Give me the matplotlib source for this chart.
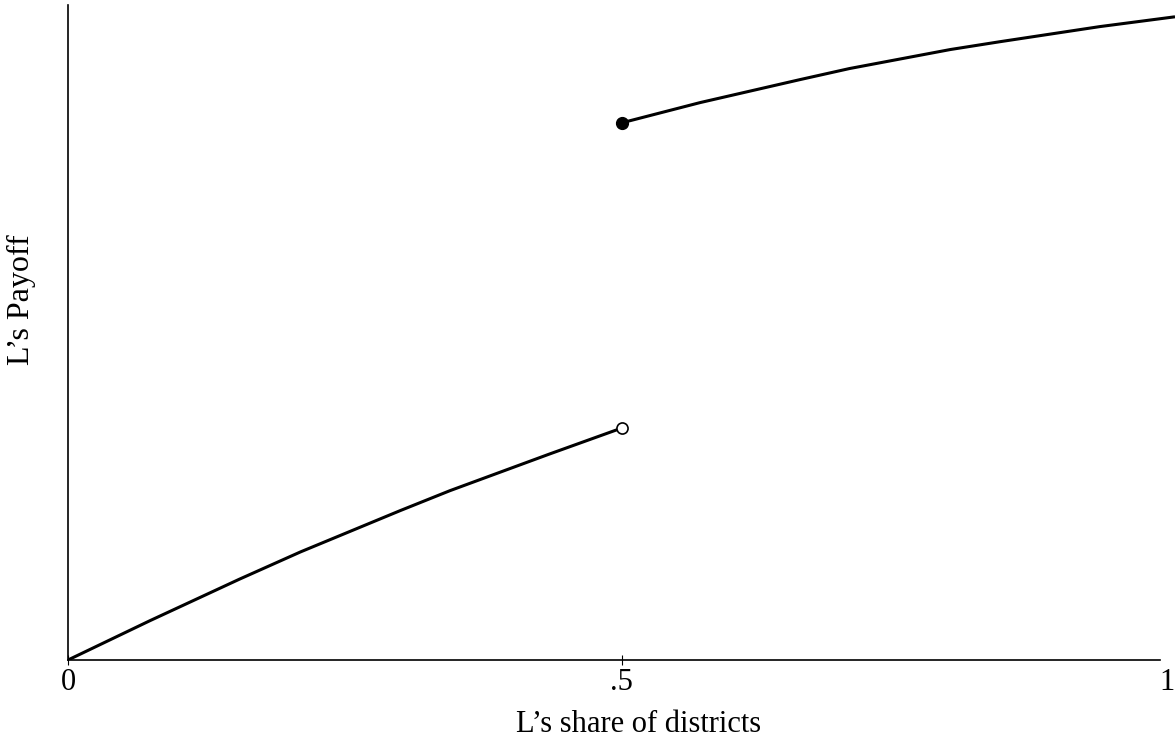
import matplotlib.pyplot as plt

# payoff below half the districts
low_x = [0, 0.074, 0.155, 0.210, 0.300, 0.345, 0.435, 0.5]
low_y = [0, 0.060, 0.1235, 0.165, 0.228, 0.2585, 0.3145, 0.354]

# payoff from half the districts upward
high_x = [0.5, 0.571, 0.661, 0.706, 0.797, 0.842, 0.932, 1.0]
high_y = [0.820, 0.851, 0.886, 0.903, 0.932, 0.944, 0.967, 0.982]

tick_pos = [0, 0.5, 1]
tick_labels = ["0", ".5", "1"]

plt.rcParams['font.family'] = ['Liberation Serif', 'DejaVu Serif']

fig = plt.figure(figsize=(11.75, 7.4), dpi=100)
ax = fig.add_axes([68 / 1175, 80 / 740, 1 - 68 / 1175, 655 / 740])

ax.plot(low_x, low_y, color="black", lw=2.2, solid_capstyle="butt", solid_joinstyle="round")
ax.plot(high_x, high_y, color="black", lw=2.2, solid_capstyle="butt", solid_joinstyle="round")

# open circle at the end of the lower part, filled dot at the start of the upper part
ax.plot(low_x[-1], low_y[-1], "o", ms=8, mfc="white", mec="black", mew=1.2, zorder=3)
ax.plot(high_x[0], high_y[0], "o", ms=8.5, color="black", zorder=3)

ax.set_xlim(0, 1)
ax.set_ylim(0, 1)

for side in ["top", "right"]:
    ax.spines[side].set_visible(False)
ax.spines["left"].set_linewidth(1.2)
ax.spines["bottom"].set_linewidth(1.2)
ax.spines["bottom"].set_bounds(0, 0.986)

ax.set_xticks(tick_pos)
ax.set_xticklabels(tick_labels, fontsize=22)
ax.tick_params(axis="x", direction="inout", length=7, width=0.8, pad=2)
# no tick mark at the right end, and keep the "1" inside the picture
last = ax.xaxis.get_major_ticks()[2]
last.tick1line.set_visible(False)
ax.get_xticklabels()[2].set_horizontalalignment("right")
ax.set_yticks([])

ax.set_xlabel("L’s share of districts", fontsize=22)
ax.xaxis.set_label_coords(0.515, -0.077)
ax.set_ylabel("L’s Payoff", fontsize=23)
ax.yaxis.set_label_coords(-0.029, 0.55)

fig.savefig("out.png", dpi=100)
